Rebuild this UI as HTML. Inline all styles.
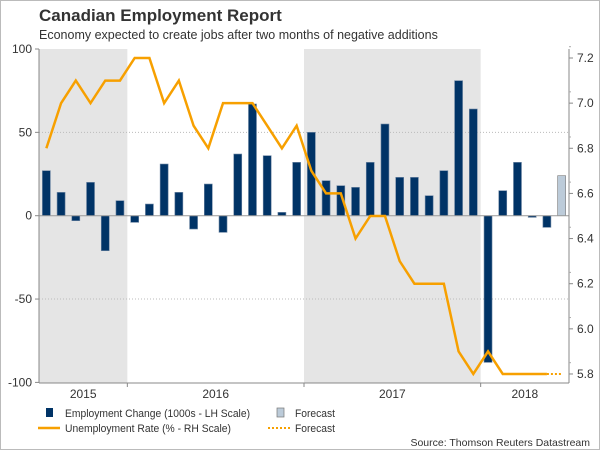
<!DOCTYPE html>
<html><head><meta charset="utf-8"><style>
body{margin:0;background:#fff}
svg{display:block;font-family:"Liberation Sans",sans-serif}
</style></head><body>
<svg width="600" height="450" xmlns="http://www.w3.org/2000/svg" id="chart">
<rect x="0.5" y="0.5" width="599" height="449" fill="#fff" stroke="#bbb"/>
<text x="39" y="21" font-size="17" font-weight="bold" fill="#333">Canadian Employment Report</text>
<text x="39" y="39" font-size="12.5" fill="#333">Economy expected to create jobs after two months of negative additions</text>
<g id="plot"></g>
<g font-size="11" fill="#333">
<rect x="46" y="408" width="7" height="9" fill="#003366"/>
<text x="65" y="417" textLength="185" lengthAdjust="spacingAndGlyphs">Employment Change (1000s - LH Scale)</text>
<rect x="277" y="408" width="7" height="9" fill="#bccbd9" stroke="#777" stroke-width="0.7"/>
<text x="295" y="417" textLength="40" lengthAdjust="spacingAndGlyphs">Forecast</text>
<line x1="38" y1="428" x2="60" y2="428" stroke="#f7a000" stroke-width="2.5"/>
<text x="65" y="432" textLength="166" lengthAdjust="spacingAndGlyphs">Unemployment Rate (% - RH Scale)</text>
<line x1="268" y1="428" x2="290" y2="428" stroke="#f7a000" stroke-width="2" stroke-dasharray="2,2"/>
<text x="295" y="432" textLength="40" lengthAdjust="spacingAndGlyphs">Forecast</text>
</g>
<text x="590" y="446" font-size="10.5" fill="#333" text-anchor="end">Source: Thomson Reuters Datastream</text>
</svg>
<script>
const years = ["2015","2016","2017","2018"];
const yearMonths = [6,12,12,6];
const employment = [27,14,-3,20,-21,9, -4,7,31,14,-8,19,-10,37,67,36,2,32, 50,21,18,17,32,55,23,23,12,27,81,64, -88,15,32,-1,-7];
const employmentForecast = [24];
const unemployment = [6.8,7.0,7.1,7.0,7.1,7.1, 7.2,7.2,7.0,7.1,6.9,6.8,7.0,7.0,7.0,6.9,6.8,6.9, 6.7,6.6,6.6,6.4,6.5,6.5,6.3,6.2,6.2,6.2,5.9,5.8, 5.9,5.8,5.8,5.8,5.8];
const unemploymentForecast = [5.8];
const leftTicks = [100,50,0,-50,-100];
const rightTicks = [7.2,7.0,6.8,6.6,6.4,6.2,6.0,5.8];

const NS="http://www.w3.org/2000/svg";
const g=document.getElementById('plot');
const L=39,R=569,T=49,B=383;
const nMonths=yearMonths.reduce((a,b)=>a+b,0);
const mw=(R-L)/nMonths;
const xc=i=>L+mw*(i+0.5);
const yl=v=>215.7-v*1.667;
const yr=v=>58+(7.2-v)*225.7;
function mk(tag,attrs){const e=document.createElementNS(NS,tag);for(const k in attrs)e.setAttribute(k,attrs[k]);g.appendChild(e);return e;}

let start=0;
years.forEach((yname,k)=>{
  const x0=L+start*mw,x1=L+(start+yearMonths[k])*mw;
  if(k%2===0){const r=mk('rect',{x:x0,y:T,width:x1-x0,height:B-T,fill:'#e5e5e5'});
    
    }
  const t=mk('text',{x:(x0+x1)/2,y:398,'font-size':12,fill:'#333','text-anchor':'middle'});
  t.textContent=yname;
  
  
  if(k>0){const tk=mk('line',{x1:x0,y1:B,x2:x0,y2:B+4,stroke:'#888'});
    
    }
  start+=yearMonths[k];
});
leftTicks.forEach(v=>{
  const y=yl(v);
  if(v!==0 && Math.abs(v)!==100){const gl=mk('line',{x1:L,y1:y,x2:R,y2:y,stroke:'#bbb','stroke-dasharray':'1,2'});
    
    }
  const tk=mk('line',{x1:L-4,y1:y,x2:L,y2:y,stroke:'#888'});
  
  
  const t=mk('text',{x:L-7,y:y+4,'font-size':12,fill:'#333','text-anchor':'end'});
  t.textContent=v;
  
  
});
const bw=8;
function bar(i,v,fill,stroke,name){
  const y0=yl(0),y1=yl(v);
  const r=mk('rect',{x:xc(i)-bw/2,y:Math.min(y0,y1),width:bw,height:Math.max(Math.abs(y1-y0),0.8),fill:fill,stroke:stroke,'stroke-width':0.6});
  
  
}
employment.forEach((v,i)=>bar(i,v,'#003366','#6d86a3','employment-bar'));
employmentForecast.forEach((v,j)=>bar(employment.length+j,v,'#bccbd9','#777','forecast-bar'));
const z=mk('line',{x1:L,y1:yl(0),x2:R,y2:yl(0),stroke:'#999'});


const pts=unemployment.map((v,i)=>xc(i)+','+yr(v)).join(' ');
const pl=mk('polyline',{points:pts,fill:'none',stroke:'#f7a000','stroke-width':2.5,'stroke-linejoin':'miter'});


const last=unemployment.length-1;
const fpts=[xc(last)+','+yr(unemployment[last])].concat(unemploymentForecast.map((v,j)=>xc(last+1+j)+','+yr(v))).join(' ');
const fl=mk('polyline',{points:fpts,fill:'none',stroke:'#f7a000','stroke-width':2,'stroke-dasharray':'2,2'});


const la=mk('line',{x1:L,y1:T,x2:L,y2:B,stroke:'#888'});


const ba=mk('line',{x1:L,y1:B,x2:R,y2:B,stroke:'#888'});


const ra=mk('line',{x1:R,y1:T,x2:R,y2:B,stroke:'#888'});


rightTicks.forEach(v=>{
  const y=yr(v);
  const tk=mk('line',{x1:R,y1:y,x2:R+4,y2:y,stroke:'#888'});
  
  
  const mt=mk('line',{x1:R,y1:y-11.3,x2:R+2,y2:y-11.3,stroke:'#aaa'});
  
  
  const t=mk('text',{x:R+8,y:y+4,'font-size':12,fill:'#333'});
  t.textContent=v.toFixed(1);
  
  
});
</script>
</body></html>
